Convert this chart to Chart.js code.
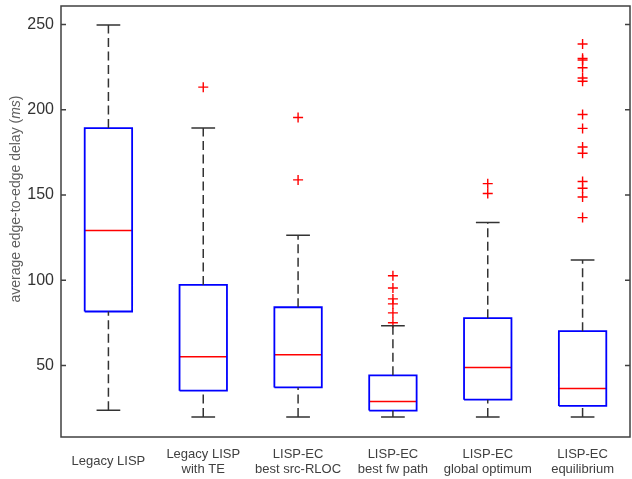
<!DOCTYPE html>
<html>
<head>
<meta charset="utf-8">
<script src="https://cdn.jsdelivr.net/npm/chart.js@4"></script>
<style>
  html, body { margin: 0; padding: 0; background: #fff; }
  #wrap { width: 632px; height: 479px; }
</style>
</head>
<body>
<div id="wrap"><canvas id="chart"></canvas></div>
<script>
// box plot values
const categories = [
	['Legacy LISP'],
	['Legacy LISP', 'with TE'],
	['LISP-EC', 'best src-RLOC'],
	['LISP-EC', 'best fw path'],
	['LISP-EC', 'global optimum'],
	['LISP-EC', 'equilibrium']
];
const lowerWhisker = [23.7, 19.8, 19.8, 19.8, 19.8, 19.8];
const q1           = [81.6, 35.2, 37.1, 23.5, 29.9, 26.2];
const medians      = [129.1, 55.1, 56.2, 28.8, 48.8, 36.4];
const q3           = [189.2, 97.2, 84.1, 44.2, 77.7, 70.1];
const upperWhisker = [249.6, 189.2, 126.4, 73.2, 133.8, 111.8];
const outliers = [
	[],
	[213.2],
	[195.4, 158.8],
	[102.6, 95.4, 89.0, 86.1, 80.8, 75.0],
	[156.6, 150.8],
	[238.5, 230.1, 229.1, 224.6, 218.6, 216.7, 197.2, 189.0, 178.1, 174.4, 157.9, 153.9, 148.8, 136.7]
];
const yTicks = [50, 100, 150, 200, 250];

const BOX_HALF = 0.25;
const CAP_HALF = 0.125;

/******************* BUILD SEGMENTS **********************/

function segments(fn) {
	const pts = [];
	categories.forEach((c, i) => {
		fn(i + 1, i).forEach(p => pts.push(p));
		pts.push({ x: i + 1, y: null });
	});
	return pts;
}

const boxPts = segments((x, i) => [
	{ x: x - BOX_HALF, y: q1[i] }, { x: x + BOX_HALF, y: q1[i] },
	{ x: x + BOX_HALF, y: q3[i] }, { x: x - BOX_HALF, y: q3[i] },
	{ x: x - BOX_HALF, y: q1[i] }
]);
const medianPts = segments((x, i) => [
	{ x: x - BOX_HALF, y: medians[i] }, { x: x + BOX_HALF, y: medians[i] }
]);
const upperWhiskerPts = segments((x, i) => [
	{ x: x, y: q3[i] }, { x: x, y: upperWhisker[i] }
]);
const lowerWhiskerPts = segments((x, i) => [
	{ x: x, y: lowerWhisker[i] }, { x: x, y: q1[i] }
]);
const upperCapPts = segments((x, i) => [
	{ x: x - CAP_HALF, y: upperWhisker[i] }, { x: x + CAP_HALF, y: upperWhisker[i] }
]);
const lowerCapPts = segments((x, i) => [
	{ x: x - CAP_HALF, y: lowerWhisker[i] }, { x: x + CAP_HALF, y: lowerWhisker[i] }
]);
const outlierPts = [];
outliers.forEach((list, i) => list.forEach(v => outlierPts.push({ x: i + 1, y: v })));

function lineSet(data, color, dash, width) {
	return {
		type: 'line',
		data: data,
		borderColor: color,
		borderWidth: width || 1.5,
		borderDash: dash || [],
		pointRadius: 0,
		spanGaps: false,
		tension: 0,
		fill: false
	};
}

/******************* FRAME + Y TITLE **********************/

const framePlugin = {
	id: 'frame',
	afterDraw(chart) {
		const { ctx, chartArea: a, scales } = chart;
		ctx.save();
		ctx.strokeStyle = '#404040';
		ctx.lineWidth = 1.5;
		ctx.strokeRect(a.left, a.top, a.right - a.left, a.bottom - a.top);
		// inward tick marks on both sides
		yTicks.forEach(v => {
			const y = scales.y.getPixelForValue(v);
			ctx.beginPath();
			ctx.moveTo(a.left, y);
			ctx.lineTo(a.left + 5, y);
			ctx.moveTo(a.right, y);
			ctx.lineTo(a.right - 5, y);
			ctx.stroke();
		});
		// y axis title with italic unit
		const plain = 'average edge-to-edge delay (';
		const unit = 'ms';
		const close = ')';
		const fPlain = '14px "Liberation Sans", Arial, sans-serif';
		const fItal = 'italic 14px "Liberation Sans", Arial, sans-serif';
		ctx.font = fPlain;
		const w1 = ctx.measureText(plain).width;
		const w3 = ctx.measureText(close).width;
		ctx.font = fItal;
		const w2 = ctx.measureText(unit).width;
		const total = w1 + w2 + w3;
		ctx.translate(16, 199);
		ctx.rotate(-Math.PI / 2);
		ctx.fillStyle = '#606060';
		ctx.textBaseline = 'middle';
		ctx.textAlign = 'left';
		let x = -total / 2;
		ctx.font = fPlain;
		ctx.fillText(plain, x, 0);
		x += w1;
		ctx.font = fItal;
		ctx.fillText(unit, x, 0);
		x += w2;
		ctx.font = fPlain;
		ctx.fillText(close, x, 0);
		ctx.restore();
	}
};

/******************* CHART **********************/

new Chart(document.getElementById('chart'), {
	type: 'scatter',
	data: {
		datasets: [
			lineSet(upperWhiskerPts, '#333333', [9, 4.5]),
			lineSet(lowerWhiskerPts, '#333333', [9, 4.5]),
			lineSet(upperCapPts, '#333333'),
			lineSet(lowerCapPts, '#333333'),
			lineSet(boxPts, '#0000ff', null, 1.8),
			lineSet(medianPts, '#ff0000'),
			{
				type: 'scatter',
				data: outlierPts,
				pointStyle: 'cross',
				pointRadius: 5,
				pointBorderWidth: 1.4,
				pointBorderColor: '#ff0000',
				pointBackgroundColor: '#ff0000'
			}
		]
	},
	options: {
		responsive: true,
		maintainAspectRatio: false,
		animation: false,
		layout: { autoPadding: false, padding: { top: 6, right: 2, left: 0, bottom: 0 } },
		plugins: {
			legend: { display: false },
			tooltip: { enabled: false }
		},
		scales: {
			x: {
				type: 'linear',
				min: 0.5,
				max: 6.5,
				grid: { display: false, drawTicks: false },
				border: { display: false },
				afterBuildTicks: scale => {
					scale.ticks = categories.map((c, i) => ({ value: i + 1 }));
				},
				afterFit: scale => {
					scale.height = 42;
					scale.paddingLeft = 0;
					scale.paddingRight = 0;
				},
				ticks: {
					autoSkip: false,
					maxRotation: 0,
					padding: 17,
					crossAlign: 'center',
					color: '#404040',
					font: { family: '"Liberation Sans", Arial, sans-serif', size: 13, lineHeight: 1.15 },
					callback: value => categories[Math.round(value) - 1]
				}
			},
			y: {
				type: 'linear',
				min: 8,
				max: 260.8,
				grid: { display: false, drawTicks: false },
				border: { display: false },
				afterBuildTicks: scale => {
					scale.ticks = yTicks.map(v => ({ value: v }));
				},
				afterFit: scale => {
					scale.width = 61;
					scale.paddingTop = 0;
					scale.paddingBottom = 0;
				},
				ticks: {
					padding: 7,
					color: '#333333',
					font: { family: '"Liberation Sans", Arial, sans-serif', size: 16 }
				}
			}
		}
	},
	plugins: [framePlugin]
});
</script>
</body>
</html>
